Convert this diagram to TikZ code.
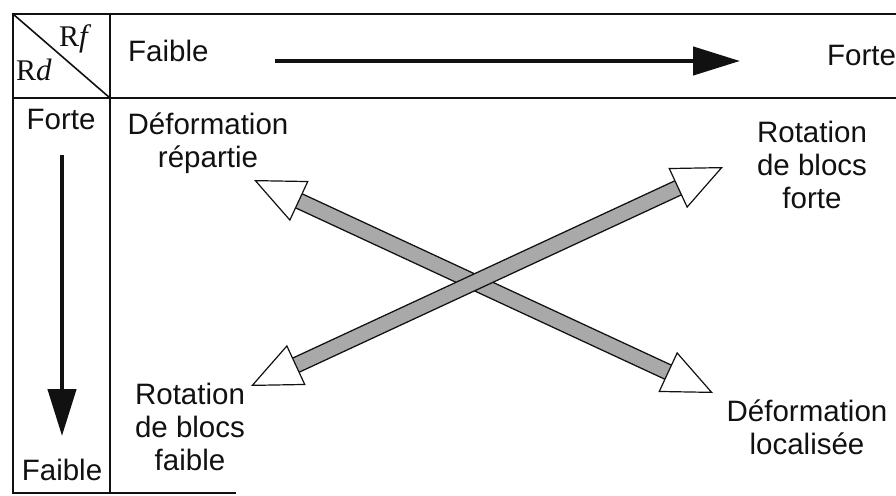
\documentclass[tikz,border=0pt]{standalone}
\usepackage{fontspec}
\setmainfont{Liberation Sans}
\newfontfamily\serifR{Liberation Serif}
\usetikzlibrary{arrows.meta}
\definecolor{ink}{HTML}{111111}
\definecolor{shaftgray}{HTML}{A9A9A9}
\newcommand{\cornervar}[2]{{\fontsize{30}{30}\selectfont #1}{\itshape\fontsize{31}{31}\selectfont #2}}
\tikzset{
  every node/.style={text=ink},
  frame/.style={draw=ink, line width=1.6pt, line cap=rect},
  lbl/.style={inner sep=0pt, font=\fontsize{29.5}{33}\selectfont, align=center},
  axislbl/.style={inner sep=0pt, font=\fontsize{29.5}{33}\selectfont, anchor=base},
  corner/.style={inner sep=0pt, anchor=base west, font=\serifR},
  scalearrow/.style={-{Triangle[length=47pt,width=28pt]}, line width=4.5pt, draw=ink},
  crossarrow/.style={{Triangle[length=50pt,width=44pt,fill=white,line width=1.2pt]}-{Triangle[length=50pt,width=44pt,fill=white,line width=1.2pt]},
    draw=ink, line width=1.4pt, double=shaftgray, double distance=14pt},
}
\begin{document}
\begin{tikzpicture}[x=1pt, y=-1pt]
\useasboundingbox (0,0) rectangle (896,495);
% table frame
\draw[frame] (13,14) -- (896,14);
\draw[frame] (13,98) -- (896,98);
\draw[frame] (13,14) -- (13,493) -- (235,493);
\draw[frame] (110,14) -- (110,493);
\draw[frame] (13,14) -- (110,98);
% corner cell
\node[corner] (rf) at (59,47) {\cornervar{R}{f}};
\node[corner] (rd) at (16,81) {\cornervar{R}{d}};
% header: R_f scale
\node[axislbl, anchor=base west] (hdrWeak) at (128,62) {Faible};
\node[axislbl, anchor=base west] (hdrStrong) at (827,65) {Forte};
\coordinate (hStart) at (275,61);
\coordinate (hEnd) at (740,61);
\draw[scalearrow] (hStart) -- (hEnd);
% left column: R_d scale
\node[axislbl] (colStrong) at (61,129) {Forte};
\node[axislbl] (colWeak) at (62,480) {Faible};
\coordinate (vStart) at (62,155);
\coordinate (vEnd) at (62,436);
\draw[scalearrow] (vStart) -- (vEnd);
% labels of the four corners
\node[lbl, anchor=north] (lblRep) at (208,113) {Déformation\\répartie};
\node[lbl, anchor=north] (lblRotHi) at (812,121) {Rotation\\de blocs\\forte};
\node[lbl, anchor=north] (lblRotLo) at (190,383) {Rotation\\de blocs\\faible};
\node[lbl, anchor=north] (lblLoc) at (807,400) {Déformation\\localisée};
% crossing arrows
\coordinate (repTip) at (254,180);
\coordinate (locTip) at (713,393);
\coordinate (rotLoTip) at (251,386);
\coordinate (rotHiTip) at (723,167);
\draw[crossarrow] (repTip) -- (locTip);
\draw[crossarrow] (rotLoTip) -- (rotHiTip);
\end{tikzpicture}
\end{document}
